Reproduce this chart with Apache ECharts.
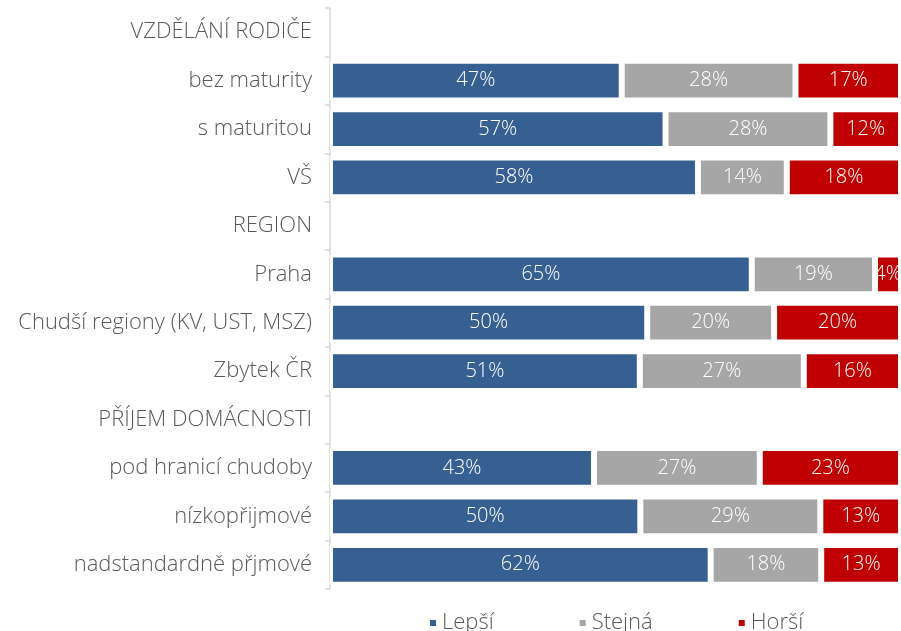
<!DOCTYPE html>
<html>
<head>
<meta charset="utf-8">
<script src="https://cdn.jsdelivr.net/npm/echarts@6/dist/echarts.min.js"></script>
<style>
  html, body { margin: 0; padding: 0; background: #fff; }
  #main { width: 901px; height: 631px; }
</style>
</head>
<body>
<div id="main"></div>
<script>
// kategorie shora dolů, nadpisy skupin nemají sloupec
var categories = ['VZDĚLÁNÍ RODIČE', 'bez maturity', 's maturitou', 'VŠ',
    'REGION', 'Praha', 'Chudší regiony (KV, UST, MSZ)', 'Zbytek ČR',
    'PŘÍJEM DOMÁCNOSTI', 'pod hranicí chudoby', 'nízkopřijmové', 'nadstandardně přjmové'];
var seriesNames = ['Lepší', 'Stejná', 'Horší'];
var lepsi  = [null, 47, 57, 58, null, 65, 50, 51, null, 43, 50, 62];
var stejna = [null, 28, 28, 14, null, 19, 20, 27, null, 27, 29, 18];
var horsi  = [null, 17, 12, 18, null, 4, 20, 16, null, 23, 13, 13];
var colors = ['#376092', '#a6a6a6', '#c00000'];

var raw = [lepsi, stejna, horsi];
// 100% skládaný graf - podíl v řádku, popisek ukazuje původní hodnotu
function share(arr) {
    return arr.map(function (v, i) {
        if (v == null) return null;
        var sum = lepsi[i] + stejna[i] + horsi[i];
        return v / sum * 100;
    });
}

var font = '"Open Sans", "Noto Sans", sans-serif';
var myChart = echarts.init(document.getElementById('main'));

var option = {
    animation: false,
    textStyle: { fontFamily: font },
    grid: { left: 330, top: 8, right: 0, bottom: 42, containLabel: false },
    legend: {
        data: seriesNames,
        bottom: -8,
        left: 423,
        itemWidth: 8,
        itemHeight: 8,
        itemGap: 84,
        icon: 'rect',
        textStyle: { fontSize: 22, fontWeight: 300, color: '#595959', fontFamily: font }
    },
    xAxis: { type: 'value', min: 0, max: 100, show: false },
    yAxis: {
        type: 'category',
        inverse: true,
        data: categories,
        axisLine: { lineStyle: { color: '#d9d9d9', width: 1.5 } },
        axisTick: { show: true, length: 5, lineStyle: { color: '#d9d9d9', width: 1.5 } },
        axisLabel: { fontSize: 22, fontWeight: 300, color: '#595959', margin: 18, fontFamily: font }
    },
    series: seriesNames.map(function (name, k) {
        return {
            name: name,
            type: 'bar',
            stack: 'total',
            barWidth: '82%',
            data: share(raw[k]),
            itemStyle: { color: colors[k], borderColor: '#fff', borderWidth: 3 },
            label: {
                show: true,
                position: 'inside',
                color: '#fff',
                fontSize: 20,
                fontWeight: 300,
                fontFamily: font,
                formatter: function (p) {
                    var v = raw[k][p.dataIndex];
                    return v == null ? '' : v + '%';
                }
            }
        };
    })
};

myChart.setOption(option);
window.onresize = function () { myChart.resize(); };
</script>
</body>
</html>
